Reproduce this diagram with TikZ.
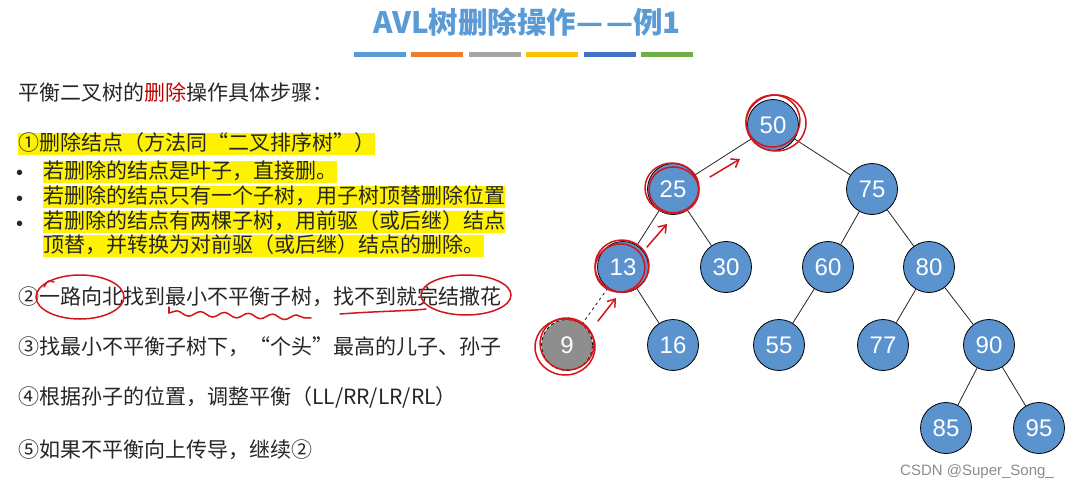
\documentclass[tikz,border=0pt]{standalone}
\usepackage{fontspec}
\setmainfont{Liberation Sans}
\newfontfamily\cjk{Noto Sans CJK SC}
\usetikzlibrary{arrows.meta,decorations.pathmorphing}
\definecolor{nodeblue}{HTML}{5B93CF}
\definecolor{nodegray}{HTML}{8E8E8E}
\definecolor{titleblue}{HTML}{5B9BD5}
\definecolor{penred}{HTML}{D3161C}
\definecolor{wordred}{HTML}{C00000}
\definecolor{textgray}{HTML}{262626}
\definecolor{barblue}{HTML}{5B9BD5}
\definecolor{barorange}{HTML}{ED7D31}
\definecolor{bargray}{HTML}{A5A5A5}
\definecolor{baryellow}{HTML}{FFC000}
\definecolor{bardarkblue}{HTML}{4472C4}
\definecolor{bargreen}{HTML}{70AD47}
\begin{document}
\begin{tikzpicture}[x=1pt, y=-1pt,
  avlv/.style={circle, draw=black, fill=nodeblue, minimum size=51pt, inner sep=0pt, line width=0.8pt, text=white, font={\fontsize{24}{24}\selectfont}},
  delv/.style={avlv, fill=nodegray, dashed},
  avledge/.style={line width=0.8pt, draw=black!85},
  txt/.style={anchor=base west, inner sep=0pt, text=textgray, font={\cjk\fontsize{21}{21}\selectfont}},
  hl/.style={txt, fill=yellow, text height=17.5pt, text depth=5pt},
  dot/.style={txt, font={\fontsize{20}{20}\selectfont}},
  redpen/.style={draw=penred, line width=1.5pt, line cap=round},
  redarrow/.style={redpen, -{Straight Barb[length=7pt, width=10pt]}}
]
\useasboundingbox[fill=white] (0,0) rectangle (1073,490);
\node[font={\cjk\bfseries\fontsize{29.5}{29.5}\selectfont}, text=titleblue] (title) at (527,22) {AVL树删除操作—\kern3pt—例1};
\foreach \c [count=\i from 0] in {barblue,barorange,bargray,baryellow,bardarkblue,bargreen}
  \draw[\c, line width=5pt] (354+57.4*\i,54) -- (406+57.4*\i,54);
% steps
\node[txt] (head) at (18,100) {平衡二叉树的\textcolor{wordred}{删除}操作具体步骤：};
\node[hl] (s1) at (18,150) {①删除结点（方法同“二叉排序树”）};
\node[dot] (b1) at (16,179) {•};
\node[dot] (b2) at (16,205) {•};
\node[dot] (b3) at (16,230) {•};
\node[hl] (s1a) at (43,178) {若删除的结点是叶子，直接删。};
\node[hl] (s1b) at (43,203) {若删除的结点只有一个子树，用子树顶替删除位置};
\node[hl] (s1c) at (43,228) {若删除的结点有两棵子树，用前驱（或后继）结点};
\node[hl] (s1d) at (43,252) {顶替，并转换为对前驱（或后继）结点的删除。};
\node[txt] (s2) at (18,304) {②一路向北找到最小不平衡子树，找不到就完结撒花};
\node[txt] (s3) at (18,354) {③找最小不平衡子树下，“个头”最高的儿子、孙子};
\node[txt] (s4) at (18,404) {④根据孙子的位置，调整平衡（LL/RR/LR/RL）};
\node[txt] (s5) at (18,457) {⑤如果不平衡向上传导，继续②};
% tree
\node[avlv] (n50) at (773,125) {50};
\node[avlv] (n25) at (673,189) {25};
\node[avlv] (n75) at (872,189) {75};
\node[avlv] (n13) at (623,267) {13};
\node[avlv] (n30) at (726,267) {30};
\node[avlv] (n60) at (828,267) {60};
\node[avlv] (n80) at (929,267) {80};
\node[delv] (n9) at (567,345) {9};
\node[avlv] (n16) at (673,345) {16};
\node[avlv] (n55) at (779,345) {55};
\node[avlv] (n77) at (883,345) {77};
\node[avlv] (n90) at (989,345) {90};
\node[avlv] (n85) at (946,428) {85};
\node[avlv] (n95) at (1039,428) {95};
\draw[avledge] (n50) -- (n25);
\draw[avledge] (n50) -- (n75);
\draw[avledge] (n25) -- (n13);
\draw[avledge] (n25) -- (n30);
\draw[avledge] (n75) -- (n60);
\draw[avledge] (n75) -- (n80);
\draw[avledge, dashed] (n13) -- (n9);
\draw[avledge] (n13) -- (n16);
\draw[avledge] (n60) -- (n55);
\draw[avledge] (n80) -- (n77);
\draw[avledge] (n80) -- (n90);
\draw[avledge] (n90) -- (n85);
\draw[avledge] (n90) -- (n95);
% red pen marks
\draw[redpen] (776,123) ellipse[x radius=30, y radius=28];
\draw[redpen] (773,121) ellipse[x radius=27, y radius=26, rotate=15];
\draw[redpen] (672,188) ellipse[x radius=27, y radius=25];
\draw[redpen] (674,190) ellipse[x radius=25, y radius=23, rotate=-10];
\draw[redpen] (622,266) ellipse[x radius=27, y radius=26];
\draw[redpen] (620,268) ellipse[x radius=25, y radius=24, rotate=20];
\draw[redpen] (565,347) ellipse[x radius=30, y radius=28];
\draw[redpen] (567,344) ellipse[x radius=27, y radius=26, rotate=-15];
\coordinate (up1a) at (598,321);
\coordinate (up1b) at (616,298);
\coordinate (up2a) at (647,247);
\coordinate (up2b) at (667,224);
\coordinate (up3a) at (710,177);
\coordinate (up3b) at (740,159);
\draw[redarrow] (up1a) -- (up1b);
\draw[redarrow] (up2a) -- (up2b);
\draw[redarrow] (up3a) -- (up3b);
\draw[redpen] (80,297) ellipse[x radius=44, y radius=22];
\draw[redpen] (44,287) .. controls (48,280) .. (54,282);
\draw[redpen] (169,307) -- (169,313);
\draw[redpen, decorate, decoration={snake, amplitude=2.5pt, segment length=24pt}] (169,313) -- (311,318);
\draw[redpen] (340,314) .. controls (380,311) and (410,311) .. (426,309);
\draw[redpen] (466,295) ellipse[x radius=45, y radius=20];
\node[font={\fontsize{15}{15}\selectfont}, text=black!45] (mark) at (977,472) {CSDN @Super\_Song\_};
\end{tikzpicture}
\end{document}
